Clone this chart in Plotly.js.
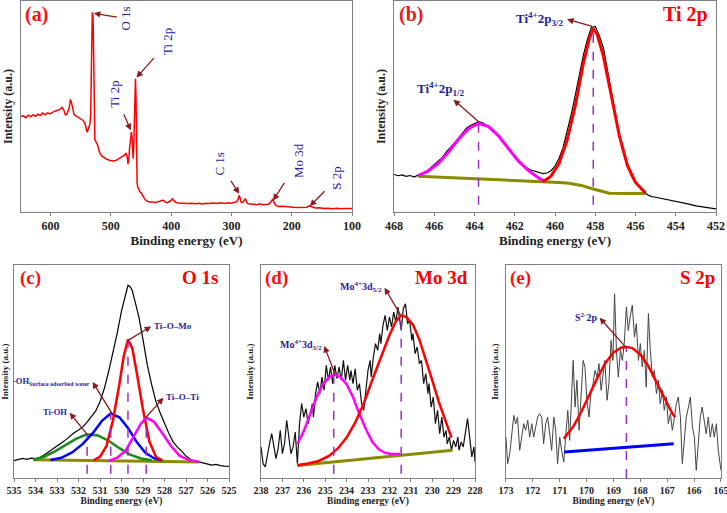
<!DOCTYPE html>
<html>
<head>
<meta charset="utf-8">
<script src="https://cdn.plot.ly/plotly-3.0.1.min.js"></script>
<style>html,body{margin:0;padding:0;background:#fff;}#chart{width:727px;height:513px;}</style>
</head>
<body>
<div id="chart"></div>
<script>
// ---------- (a) survey ----------
const surveyE = [649,645,641,637,633,629,625,621,617,613,609,605,601,597,593,589,585,581,578,575,572,569,567,565,563,561,558,555,552,549,546,543,541,539.5,538,536,534.5,533.5,532.5,531.5,530.8,530,529.2,528.3,527.3,526.5,525,523.5,522,520,518,515,511,507,502,497,492,487,482,478,475,473,471.5,470,469,468,467,466,465,464,463,462,461,460,459.2,458.3,457.5,456.5,455.5,454.5,452,450,448,446,443,439,435,431,427,423,419,415,412,409,406,403,400,398,396,393,389,384,378,372,366,360,354,348,342,336,330,324,318,312,306,300,295,291,289,287.3,285.5,284,282,279.5,277,275,272.5,268,263,258,253,248,243,239,236,234,232,230,228,225,221,216,211,205,198,190,182,175,171,169,166,161,154,147,140,132,125,118,111,104,100];
const surveyI = [45.2,45.6,44.7,45.9,45.1,46.1,45.4,46.4,45.7,46.9,46.1,47.0,46.5,47.3,47.8,48.1,48.6,49.6,48.3,45.8,47.0,49.5,53.4,51.5,48.0,46.2,45.6,45.0,44.6,44.0,43.4,41.9,40.0,37.9,38.8,40.5,42.0,46,62,86,94.3,94.2,88,60,38,34.5,33.5,32.8,31.8,29.5,27.8,26.6,25.8,25.0,24.5,24.2,24.4,25.2,26.0,26.8,27.8,26.5,22.8,25.5,30,34,36.5,37.9,36,30,25.3,31,44,58,63.2,55,30,14,12,11,9.6,9.2,8.2,6.8,5.8,5.0,4.7,4.8,4.5,4.7,5.0,5.6,5.4,4.6,4.4,4.8,5.5,6.2,5.6,4.7,4.3,4.2,4.4,4.0,4.2,3.9,4.1,3.8,4.2,4.0,4.3,4.1,4.4,4.1,4.4,4.2,4.6,4.9,6.0,7.9,6.5,4.7,4.5,5.2,6.4,4.8,3.9,3.7,3.8,3.5,3.9,3.4,3.6,3.7,4.3,5.5,5.9,5.0,3.8,2.9,2.6,2.7,2.5,2.4,2.3,2.2,2.1,2.3,2.9,2.7,2.3,1.9,2.0,1.7,1.8,1.6,1.8,1.5,1.7,1.6,1.7];

// ---------- (b) Ti 2p ----------
const tiE = [468.0,467.8,467.6,467.4,467.2,467.0,466.8,466.6,466.4,466.2,466.0,465.8,465.6,465.4,465.2,465.0,464.8,464.6,464.4,464.2,464.0,463.8,463.6,463.4,463.2,463.0,462.8,462.6,462.4,462.2,462.0,461.8,461.6,461.4,461.2,461.0,460.8,460.6,460.4,460.2,460.0,459.8,459.6,459.4,459.2,459.0,458.8,458.6,458.4,458.2,458.0,457.8,457.6,457.4,457.2,457.0,456.8,456.6,456.4,456.2,456.0,455.8,455.6,455.4,455.2,455.0,454.6,454.2,453.8,453.4,453.0,452.6,452.2,452.0];
const tiI = [17.8,17.2,17.6,16.9,17.3,16.6,17.5,18.2,19.2,20.8,22.5,23.8,25.9,28.5,30.4,32.6,35,37.4,39.7,41,42,42.8,42.3,41.2,39.8,38.1,35.6,32.8,30.5,28.3,25.8,23.6,22.1,20.8,19.9,19.3,18.6,18.2,18.5,19.6,21.8,25.5,30.5,37.8,46,55,64.5,74,81.5,87.5,88,83.5,78,67,56,45.5,36,28,22,17,13.8,11.5,9.6,8.2,7.3,7,6.3,5.6,4.7,3.9,2.9,2.2,1.7,1.5];
const tiBgE = [466.8,465.5,463.8,462.0,460.6,459.8,459.3,458.7,458.1,457.6,457.3,456.5,455.5];
const tiBgI = [17.0,16.5,15.5,14.9,14.4,14.0,13.6,12.6,10.9,9.6,8.9,8.8,8.8];
const ti12E = [466.8,466.3,465.8,465.3,464.8,464.3,463.8,463.3,462.8,462.3,461.8,461.3,460.8,460.5];
const ti12I = [17.3,19.5,23,28.3,34.5,39.5,42,40.5,36,30,24,19.5,16,14.5];
const ti32E = [460.6,460.2,459.8,459.4,459.0,458.6,458.3,458.1,457.9,457.6,457.2,456.8,456.4,456.0,455.5];
const ti32I = [14.4,17,23,34,50,70,82,87,84,74,55,36,22,14,9];
const tiPeakE = [463.8,458.1];
const tiPeakTop = [42,87];

// ---------- (c) O 1s ----------
const oE = [535.0,534.8,534.6,534.4,534.2,534.0,533.8,533.6,533.4,533.2,533.0,532.8,532.6,532.4,532.2,532.0,531.8,531.6,531.4,531.2,531.0,530.8,530.6,530.4,530.2,530.0,529.8,529.7,529.6,529.5,529.4,529.2,529.0,528.8,528.6,528.4,528.2,528.0,527.8,527.6,527.4,527.2,527.0,526.8,526.6,526.4,526.2,526.0,525.8,525.6,525.4,525.2,525.0];
const oI = [8.2,8.6,9.2,8.8,9.3,9.1,9.6,10.8,12.2,13.3,14.6,16.4,17.9,19.6,21.2,22.5,24,26.2,28.6,31.5,35.8,42,50,58.5,68,78.5,87,90.5,89.8,88,84,76,65,53,44,36,30.5,25.5,21,17,14.5,12.6,10.3,8.8,8,7.6,7.2,6.5,6.1,6.4,5.8,5.6,5.5];
const oBgE = [534.1,526.4];
const oBgI = [8.6,7.5];
const tiOHE = [534.1,533.6,533.1,532.6,532.1,531.6,531.1,530.6,530.1,529.6,529.1,528.6];
const tiOHI = [8.6,10,12.5,15.5,18.5,20.5,20,17.5,14,11,9.2,8.3];
const ohwE = [533.3,532.8,532.3,531.8,531.3,530.9,530.5,530.1,529.7,529.3,528.9,528.5,528.1];
const ohwI = [8.5,9.5,12,16,21.5,27,30.3,28.5,23.5,17,12,9.3,8.2];
const tiOMoE = [531.3,531.0,530.7,530.4,530.1,529.9,529.7,529.5,529.3,529.0,528.7,528.4,528.1];
const tiOMoI = [8.3,10,15,27,44,57,65,61,50,32,17,10,8.2];
const tiOTiE = [530.6,530.2,529.8,529.4,529.1,528.85,528.5,528.1,527.7,527.3,526.9,526.4];
const tiOTiI = [8,9.5,13,20,25.5,28.4,26.5,21,15,10.5,8.5,7.6];
const oPeakE = [531.6,530.5,529.7,528.85];
const oPeakTop = [20.5,30.3,65,28.4];

// ---------- (d) Mo 3d ----------
const moE = [238.0,237.9,237.8,237.7,237.6,237.5,237.4,237.3,237.2,237.1,237.0,236.9,236.8,236.7,236.6,236.5,236.4,236.3,236.2,236.1,236.0,235.9,235.8,235.7,235.6,235.55,235.45,235.35,235.25,235.15,235.05,234.95,234.85,234.75,234.65,234.55,234.45,234.35,234.25,234.15,234.05,233.95,233.85,233.8,233.7,233.6,233.5,233.4,233.3,233.2,233.1,233.0,232.9,232.85,232.75,232.65,232.55,232.45,232.4,232.3,232.2,232.1,232.0,231.9,231.8,231.7,231.6,231.5,231.45,231.35,231.25,231.15,231.05,230.95,230.9,230.8,230.7,230.6,230.5,230.4,230.3,230.2,230.15,230.05,229.95,229.85,229.75,229.65,229.55,229.45,229.35,229.3,229.2,229.1,229.0,228.9,228.8,228.75,228.65,228.55,228.45,228.35,228.25,228.15,228.05,228.0];
const moI = [14.6,6.7,5.2,11.4,16.1,20.8,14.6,9.1,13.8,22.4,11.4,16.1,27.1,19.2,11.4,14.6,21.6,6.7,25.5,34.9,28.6,32.6,25.5,30.2,34.9,28.6,39.6,45.1,39.6,47.4,41.2,52.9,45.9,52.1,44.3,52.9,46.6,52.1,45.9,55.2,45.9,52.9,45.9,50.5,44.3,51.3,41.2,44.3,34.9,31.8,41.2,50.5,55.2,47.4,56.8,63.1,59.9,67.8,63.1,71.7,76.4,69.3,75.6,70.9,77.9,73.2,80.3,74.0,69.3,79.5,81.8,72.5,73.9,64.6,67.8,58.4,61.5,53.7,55.2,44.3,49.0,39.6,44.3,33.3,38.0,25.5,31.8,20.8,28.6,19.2,22.4,16.1,19.2,13.0,17.7,14.6,19.2,13.0,16.9,14.6,20.8,27.9,19.2,9.9,14.6,7.5];
const moBgE = [236.3,229.05];
const moBgI = [5.9,13.0];
const mo32E = [236.3,236.0,235.7,235.4,235.1,234.8,234.55,234.3,234.0,233.7,233.4,233.1,232.8,232.5,232.2,231.9,231.5];
const mo32I = [16,22,30,38,44,47.5,48.5,47.5,44,38,30,23,17,13.5,11.8,11.3,11.3];
const mo52E = [236.3,235.8,235.3,234.8,234.4,234.0,233.6,233.2,232.8,232.4,232.0,231.7,231.45,231.2,230.9,230.6,230.3,230.0,229.7,229.4,229.1];
const mo52I = [6,6.8,8,10.5,14,19,26,35,46,57,67,73.5,76.4,75.5,72,65,56,46,36,27,19];
const moPeakE = [234.6,231.45];
const moPeakTop = [48.5,76.4];

// ---------- (e) S 2p ----------
const sE = [173.0,172.94,172.86,172.79,172.71,172.64,172.57,172.49,172.42,172.34,172.27,172.19,172.12,172.04,171.97,171.9,171.82,171.75,171.67,171.6,171.52,171.45,171.37,171.3,171.22,171.15,171.08,171.0,170.93,170.85,170.78,170.7,170.63,170.56,170.5,170.43,170.36,170.28,170.2,170.13,170.06,169.99,169.91,169.84,169.76,169.69,169.61,169.54,169.46,169.39,169.32,169.24,169.17,169.09,169.02,168.96,168.89,168.82,168.74,168.67,168.6,168.52,168.45,168.38,168.3,168.22,168.15,168.07,168.0,167.93,167.85,167.78,167.7,167.63,167.55,167.48,167.4,167.33,167.26,167.18,167.11,167.03,166.96,166.88,166.81,166.73,166.66,166.59,166.51,166.44,166.36,166.29,166.21,166.14,166.06,165.99,165.92,165.84,165.77,165.7,165.62,165.55,165.47,165.4,165.32,165.25,165.17,165.1,165.0];
const sI = [19.2,6.7,11.4,20.8,29.4,25.5,28.6,13.0,19.2,25.5,22.4,27.1,19.2,25.5,19.2,23.9,28.6,30.2,28.6,16.1,25.5,28.6,19.2,13.0,28.6,22.4,6.7,19.2,13.0,7.5,19.2,31.8,17.7,39.6,55.2,33.3,45.9,22.4,39.6,55.2,52.1,36.5,28.6,39.6,44.3,50.5,47.4,53.7,41.2,49.0,55.2,36.5,44.3,64.6,55.2,86.5,59.9,47.4,59.9,55.2,63.1,80.3,69.3,75.6,81.1,66.2,72.5,55.2,63.1,52.1,59.9,42.7,77.2,59.9,47.4,50.5,39.6,45.9,34.9,41.2,31.8,38.0,25.5,30.2,22.4,28.6,34.9,38.0,28.6,6.7,19.2,28.6,33.3,38.0,23.9,19.2,3.6,19.2,28.6,33.3,25.5,20.8,28.6,19.2,25.5,19.2,25.5,13.0,3.6];
const sBgE = [170.83,166.76];
const sBgI = [12.2,16.1];
const sFitE = [170.85,170.5,170.2,169.9,169.6,169.3,169.0,168.7,168.5,168.3,168.0,167.7,167.4,167.1,166.8,166.7];
const sFitI = [18.5,24,31,39,47,54,59,61.3,61.5,61,58,52.5,45,37,30,28.6];
const sPeakE = [168.52];
const sPeakTop = [61.2];

// ---------- styling ----------
const SERIF = '"Liberation Serif", "Times New Roman", Times, serif';
const BLUE = '#1e1ea0';
const ARROW = '#8b1a1a';
const DASH = '#9b30c8';

function line(x, y, xa, ya, color, width, dash) {
  return {x: x, y: y, xaxis: xa, yaxis: ya, type: 'scatter', mode: 'lines',
          line: {color: color, width: width, dash: dash || 'solid'}, hoverinfo: 'skip', showlegend: false};
}
function peakLines(E, top, xa, ya, base) {
  return E.map((e, i) => line([e, e], [base, top[i]], xa, ya, DASH, 1.5, 'dash'));
}

const traces = [
  line(surveyE, surveyI, 'x', 'y', '#ff0000', 1.5),

  line(tiE, tiI, 'x2', 'y2', '#000000', 1.2),
  line(tiBgE, tiBgI, 'x2', 'y2', '#8b8b00', 3),
  line(ti12E, ti12I, 'x2', 'y2', '#ff00ff', 3),
  line(ti32E, ti32I, 'x2', 'y2', '#ff0000', 3),
  ...peakLines(tiPeakE, tiPeakTop, 'x2', 'y2', 3.5),

  line(oE, oI, 'x3', 'y3', '#000000', 1.2),
  line(oBgE, oBgI, 'x3', 'y3', '#8b8b00', 3),
  line(tiOHE, tiOHI, 'x3', 'y3', '#1a8a1a', 2.5),
  line(ohwE, ohwI, 'x3', 'y3', '#0000ff', 2.5),
  line(tiOMoE, tiOMoI, 'x3', 'y3', '#ff0000', 2.5),
  line(tiOTiE, tiOTiI, 'x3', 'y3', '#ff00ff', 2.5),
  ...peakLines(oPeakE, oPeakTop, 'x3', 'y3', 2),

  line(moE, moI, 'x4', 'y4', '#111111', 1.2),
  line(moBgE, moBgI, 'x4', 'y4', '#8b8b00', 3),
  line(mo32E, mo32I, 'x4', 'y4', '#ff00ff', 2.5),
  line(mo52E, mo52I, 'x4', 'y4', '#ff0000', 2.5),
  ...peakLines(moPeakE, moPeakTop, 'x4', 'y4', 2),

  line(sE, sI, 'x5', 'y5', '#444444', 1),
  line(sBgE, sBgI, 'x5', 'y5', '#0000ff', 3),
  line(sFitE, sFitI, 'x5', 'y5', '#ff0000', 2.5),
  ...peakLines(sPeakE, sPeakTop, 'x5', 'y5', 0)
];

function xaxis(domain, range, dtick, anchor, fs, tfs) {
  return {domain: domain, range: range, dtick: dtick, anchor: anchor,
    showline: true, mirror: true, linecolor: '#808080', linewidth: 1,
    ticks: 'outside', ticklen: 3, tickcolor: '#808080', showgrid: false, zeroline: false,
    ticklabeloverflow: 'allow',
    tickfont: {family: SERIF, size: fs, color: '#222', weight: 'bold'},
    title: {text: 'Binding energy (eV)', font: {family: SERIF, size: tfs, color: '#222', weight: 'bold'}, standoff: 2}};
}
function yaxis(domain, anchor, tfs) {
  return {domain: domain, range: [0, 100], anchor: anchor,
    showline: true, mirror: true, linecolor: '#808080', linewidth: 1,
    ticks: '', showticklabels: false, showgrid: false, zeroline: false,
    title: {text: 'Intensity (a.u.)', font: {family: SERIF, size: tfs, color: '#222', weight: 'bold'}, standoff: 4}};
}

const topY = [0.5867, 0.998], botY = [0.0682, 0.4834];

// label with arrow pointing from the label to a peak (head at the peak)
function pointer(xr, yr, text, peakX, peakY, tx, ty, size, opts) {
  return Object.assign({xref: xr, yref: yr, axref: xr, ayref: yr, x: peakX, y: peakY, ax: tx, ay: ty,
    text: text, showarrow: true, arrowhead: 2, arrowsize: 1, arrowwidth: 1.3, arrowcolor: ARROW,
    font: {family: SERIF, size: size, color: BLUE}}, opts || {});
}
// label with arrow from a peak to the label (head near the label)
function tag(xr, yr, text, peakX, peakY, tx, ty, size, opts) {
  return Object.assign({xref: xr, yref: yr, axref: xr, ayref: yr, x: peakX, y: peakY, ax: tx, ay: ty,
    text: text, showarrow: true, arrowside: 'start', startarrowhead: 2, startarrowsize: 1, arrowwidth: 1.3,
    arrowcolor: ARROW, startstandoff: 1,
    font: {family: SERIF, size: size, color: BLUE, weight: 'bold'}}, opts || {});
}
function panel(x, y, text, anchor, size, color) {
  return {xref: 'paper', yref: 'paper', x: x, y: y, text: text, showarrow: false, xanchor: anchor, yanchor: 'middle',
          font: {family: SERIF, size: size, color: color, weight: 'bold'}};
}

const annotations = [
  // (a)
  pointer('x', 'y', 'O 1s', 528.2, 94.2, 475.1, 91.6, 13, {textangle: -90}),
  pointer('x', 'y', 'Ti 2p', 457.5, 63.7, 405, 80.6, 13, {textangle: -90, startstandoff: 8}),
  pointer('x', 'y', 'Ti 2p', 466.9, 38.7, 493.4, 56, 13, {textangle: -90, startstandoff: 6}),
  pointer('x', 'y', 'C 1s', 287.2, 8.7, 319.2, 22.9, 13, {textangle: -90, startstandoff: 5}),
  pointer('x', 'y', 'Mo 3d', 230.9, 5.5, 188.3, 24.5, 13, {textangle: -90, startstandoff: 10}),
  pointer('x', 'y', 'S 2p', 170, 2.8, 124.7, 15.8, 13, {textangle: -90, startstandoff: 5}),
  // (b)
  tag('x2', 'y2', 'Ti<sup>4+</sup>2p<sub>3/2</sub>', 458.16, 88, 459.45, 91.5, 13, {xanchor: 'right'}),
  tag('x2', 'y2', 'Ti<sup>4+</sup>2p<sub>1/2</sub>', 463.78, 42.7, 465.68, 58.5, 13),
  // (c)
  tag('x3', 'y3', 'Ti–O–Mo', 529.74, 64.4, 528.58, 71.4, 9, {xanchor: 'left'}),
  tag('x3', 'y3', 'Ti–O–Ti', 528.87, 28.4, 528.02, 38, 9, {xanchor: 'left'}),
  tag('x3', 'y3', '-OH<sub>Surface adsorbed water</sub>', 530.46, 30.6, 531.37, 45.5, 8.5, {xanchor: 'right'}),
  tag('x3', 'y3', 'Ti-OH', 531.6, 20.5, 532.44, 31, 8.5, {xanchor: 'right'}),
  // (d)
  tag('x4', 'y4', 'Mo<sup>4+</sup>3d<sub>5/2</sub>', 231.5, 76.8, 232.25, 89.7, 10, {xanchor: 'right'}),
  tag('x4', 'y4', 'Mo<sup>4+</sup>3d<sub>3/2</sub>', 234.54, 48.7, 235.06, 62.4, 10, {xanchor: 'right'}),
  // (e)
  tag('x5', 'y5', 'S<sup>2-</sup>2p', 168.53, 61.2, 169.54, 75.6, 10, {xanchor: 'right'}),
  // panel labels
  panel(0.0316, 0.9717, '(a)', 'left', 20, '#ff1010'),
  panel(0.546, 0.9708, '(b)', 'left', 20, '#e02020'),
  panel(0.9766, 0.9708, 'Ti 2p', 'right', 20, '#ff0000'),
  panel(0.0248, 0.459, '(c)', 'left', 19, '#ff1010'),
  panel(0.3026, 0.459, 'O 1s', 'right', 19, '#ff0000'),
  panel(0.3618, 0.459, '(d)', 'left', 19, '#ff1010'),
  panel(0.6465, 0.459, 'Mo 3d', 'right', 19, '#ff0000'),
  panel(0.6988, 0.459, '(e)', 'left', 19, '#ff1010'),
  panel(0.9862, 0.459, 'S 2p', 'right', 19, '#ff0000')
];

const layout = {
  width: 727, height: 513,
  margin: {l: 0, r: 0, t: 0, b: 0},
  paper_bgcolor: '#ffffff', plot_bgcolor: '#ffffff',
  showlegend: false,
  xaxis:  xaxis([0.0289, 0.4842], [649, 100], 100, 'y', 12, 13),
  yaxis:  yaxis(topY, 'x', 12),
  xaxis2: xaxis([0.5420, 0.9849], [468, 452], 2, 'y2', 12, 13),
  yaxis2: yaxis(topY, 'x2', 12),
  xaxis3: xaxis([0.0193, 0.3150], [535, 525], 1, 'y3', 10, 9.5),
  yaxis3: yaxis(botY, 'x3', 9),
  xaxis4: xaxis([0.3590, 0.6534], [238, 228], 1, 'y4', 10, 9.5),
  yaxis4: yaxis(botY, 'x4', 9),
  xaxis5: xaxis([0.6960, 0.9917], [173, 165], 1, 'y5', 10, 9.5),
  yaxis5: yaxis(botY, 'x5', 9),
  annotations: annotations
};

Plotly.newPlot('chart', traces, layout, {displayModeBar: false, staticPlot: true});
</script>
</body>
</html>
